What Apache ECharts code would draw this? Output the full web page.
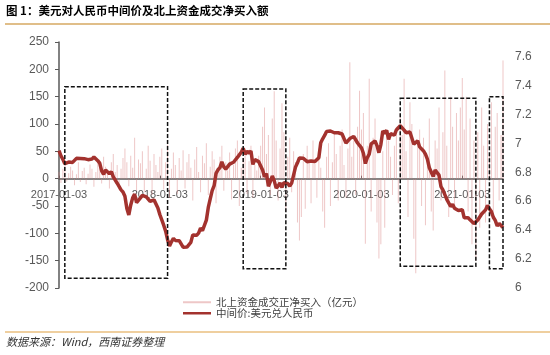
<!DOCTYPE html>
<html>
<head>
<meta charset="utf-8">
<title>美元对人民币中间价及北上资金成交净买入额</title>
<script src="https://cdn.jsdelivr.net/npm/echarts@6/dist/echarts.min.js"></script>
<style>
  html, body { margin: 0; padding: 0; background: #fff; }
  #chart { width: 550px; height: 355px; }
</style>
</head>
<body>
<div id="chart"></div>
<script>
// x axis: one point per week, each year starting on its Jan 3rd
var yearStarts = ['2017-01-03', '2018-01-03', '2019-01-03', '2020-01-03', '2021-01-03'];
var weeksInYear = [52, 52, 52, 52, 22];

// 中间价:美元兑人民币 (weekly)
var rate2017 = [6.950, 6.914, 6.889, 6.859, 6.866, 6.870, 6.875, 6.868, 6.875, 6.896,
                6.907, 6.895, 6.886, 6.894, 6.903, 6.887, 6.886, 6.891, 6.906, 6.893,
                6.880, 6.863, 6.809, 6.786, 6.815, 6.812, 6.789, 6.805, 6.768, 6.760,
                6.724, 6.722, 6.678, 6.664, 6.634, 6.549, 6.505, 6.574, 6.623, 6.649,
                6.590, 6.597, 6.623, 6.640, 6.632, 6.629, 6.616, 6.598, 6.610, 6.609,
                6.606, 6.553];
var rate2018 = [6.508, 6.513, 6.434, 6.393, 6.334, 6.290, 6.319, 6.343, 6.329, 6.336,
                6.327, 6.318, 6.282, 6.292, 6.283, 6.277, 6.315, 6.367, 6.367, 6.365,
                6.379, 6.414, 6.396, 6.391, 6.469, 6.557, 6.616, 6.673, 6.707, 6.792,
                6.817, 6.832, 6.872, 6.837, 6.822, 6.826, 6.856, 6.853, 6.869, 6.870,
                6.902, 6.920, 6.938, 6.965, 6.924, 6.946, 6.931, 6.947, 6.854, 6.887,
                6.899, 6.873];
var rate2019 = [6.863, 6.816, 6.768, 6.791, 6.703, 6.735, 6.774, 6.742, 6.690, 6.705,
                6.725, 6.695, 6.727, 6.725, 6.722, 6.704, 6.725, 6.734, 6.837, 6.865,
                6.899, 6.894, 6.897, 6.893, 6.873, 6.871, 6.878, 6.871, 6.874, 6.871,
                6.900, 7.004, 7.031, 7.054, 7.082, 7.073, 7.085, 7.075, 7.073, 7.073,
                7.073, 7.068, 7.064, 7.053, 7.001, 7.011, 7.033, 7.030, 7.047, 7.034,
                7.002, 6.998];
var rate2020 = [6.968, 6.931, 6.860, 6.900, 6.925, 6.996, 6.986, 7.016, 6.984, 6.935,
                6.991, 7.085, 7.069, 7.090, 7.027, 7.066, 7.071, 7.057, 7.092, 7.094,
                7.121, 7.132, 7.091, 7.073, 7.080, 7.078, 7.066, 6.994, 6.996, 7.018,
                6.975, 6.971, 6.947, 6.925, 6.890, 6.831, 6.839, 6.771, 6.815, 6.810,
                6.780, 6.701, 6.678, 6.691, 6.612, 6.613, 6.563, 6.578, 6.551, 6.540,
                6.535, 6.535];
var rate2021 = [6.541, 6.485, 6.481, 6.485, 6.471, 6.466, 6.445, 6.437, 6.470, 6.480,
                6.511, 6.519, 6.540, 6.570, 6.548, 6.528, 6.489, 6.467, 6.429, 6.446,
                6.441, 6.418];

// 北上资金成交正净买入 (亿元), weekly samples
var flow2017 = [12, -8, 18, 25, -5, 10, 22, 15, -12, 8,
                30, -6, 14, 20, -10, 9, 26, 18, -15, 12,
                35, 28, -9, 40, 22, 15, -18, 30, 45, 12,
                25, -20, 18, 38, 55, 30, -14, 42, 20, 75,
                -22, 35, 28, 50, -25, 18, 60, 33, -30, 45,
                25, 12];
var flow2018 = [40, 55, -20, 30, 62, -35, 18, 48, 25, -28,
                38, 15, 52, -18, 30, 45, 20, -40, 35, 58,
                12, -25, 42, 28, 65, -30, 22, 50, 35, -45,
                18, 40, 60, -22, 30, 15, 48, -38, 25, 55,
                70, -50, 20, 38, 45, -28, 32, 60, -35, 25,
                15, 42];
var flow2019 = [60, 95, 130, 45, 80, -30, 110, 160, 70, -40,
                55, 138, 85, -60, 40, 75, -25, 50, 30, -80,
                -113, -70, 45, -55, 60, 35, -45, 70, 28, -35,
                50, 20, -60, -90, 40, 65, -50, 30, 85, 45,
                -40, 60, 90, 25, -35, 55, 213, 40, 70, -30,
                95, 161];
var flow2020 = [90, 120, -119, 60, 183, -60, 75, 110, -80, -146,
                -120, 50, -90, 85, 70, 40, -30, 60, 95, -45,
                120, 80, 183, 50, -70, 140, 100, -110, -173, 60,
                90, -50, 75, -85, 40, 110, -60, -95, 70, 55,
                130, -40, 85, 198, 60, -70, 150, 95, -55, 120,
                70, 130];
var flow2021 = [184, 90, 150, -60, 110, -120, 70, -150, 85, -90,
                130, 60, -80, 100, 45, 140, -70, 95, 120, -40,
                80, 216];

// dashed boxes (week index, left axis value)
var boxFrom = [3, 95, 176, 222];
var boxTo = [56, 117, 215, 229];
var boxTop = [168, 164, 147, 150];
var boxBottom = [-182, -165, -160, -165];

var names = ['北上资金成交正净买入（亿元）', '中间价:美元兑人民币'];

function weekDates(start, count) {
    var t0 = new Date(start + 'T00:00:00Z').getTime();
    var out = [];
    for (var k = 0; k < count; k++)
        out.push(new Date(t0 + k * 7 * 86400000).toISOString().slice(0, 10));
    return out;
}

var dates = [];
for (var y = 0; y < yearStarts.length; y++)
    dates = dates.concat(weekDates(yearStarts[y], weeksInYear[y]));
var rate = rate2017.concat(rate2018, rate2019, rate2020, rate2021);
var flow = flow2017.concat(flow2018, flow2019, flow2020, flow2021);

var boxes = [];
for (var b = 0; b < boxFrom.length; b++)
    boxes.push([boxFrom[b], boxTo[b], boxTop[b], boxBottom[b]]);

function isYearStart(index) {
    return yearStarts.indexOf(dates[index]) >= 0;
}

// dashed rectangle between two week indexes and two left-axis values
function renderBox(params, api) {
    var p1 = api.coord([api.value(0), api.value(2)]);
    var p2 = api.coord([api.value(1), api.value(3)]);
    return {
        type: 'rect',
        shape: { x: p1[0], y: p1[1], width: p2[0] - p1[0], height: p2[1] - p1[1] },
        style: { fill: 'none', stroke: '#111', lineWidth: 1.5, lineDash: [4, 2] }
    };
}

var grid = { left: 59, right: 47, top: 42, bottom: 67 };
var leftMin = -200, leftMax = 250;
// the date axis sits on the zero of the left axis
var gridHeight = 355 - grid.top - grid.bottom;
var zeroOffset = -gridHeight * (0 - leftMin) / (leftMax - leftMin);

var grey = '#595959';
var numFont = 'Liberation Sans';
var cjkFont = 'Noto Sans CJK SC';

var chart = echarts.init(document.getElementById('chart'));
chart.setOption({
    animation: false,
    title: [{
        text: '图 1：美元对人民币中间价及北上资金成交净买入额',
        left: 6, top: 5, padding: 0,
        textStyle: { fontFamily: cjkFont, fontSize: 11.5, fontWeight: 'bold', color: '#000' }
    }, {
        text: '数据来源：Wind，西南证券整理',
        left: 6, top: 336, padding: 0,
        textStyle: { fontFamily: cjkFont, fontSize: 11, fontWeight: 'normal', fontStyle: 'italic', color: '#333' }
    }],
    graphic: [
        { type: 'line', shape: { x1: 5, y1: 24, x2: 550, y2: 24 }, style: { stroke: '#d6a862', lineWidth: 1.5 } },
        { type: 'line', shape: { x1: 5, y1: 332, x2: 550, y2: 332 }, style: { stroke: '#e0a040', lineWidth: 1.2 } }
    ],
    legend: [{
        data: [names[0]], left: 183, top: 297, padding: 0,
        icon: 'rect', itemWidth: 28, itemHeight: 2,
        textStyle: { fontFamily: cjkFont, fontSize: 10.5, color: '#404040' }
    }, {
        data: [names[1]], left: 183, top: 308, padding: 0,
        icon: 'rect', itemWidth: 28, itemHeight: 2.5,
        textStyle: { fontFamily: cjkFont, fontSize: 10.5, color: '#404040' }
    }],
    grid: grid,
    xAxis: {
        type: 'category',
        data: dates,
        boundaryGap: false,
        offset: zeroOffset,
        axisLine: { onZero: false, lineStyle: { color: grey, width: 1.5 } },
        axisTick: { show: true, inside: true, length: 3, interval: isYearStart, lineStyle: { color: grey } },
        axisLabel: { interval: isYearStart, margin: 11, color: grey, fontFamily: numFont, fontSize: 11 },
        splitLine: { show: false }
    },
    yAxis: [{
        type: 'value',
        min: leftMin, max: leftMax, interval: 50,
        axisLine: { show: true, lineStyle: { color: grey, width: 1.5 } },
        axisTick: { show: true, length: 4, lineStyle: { color: grey } },
        axisLabel: { margin: 10, color: grey, fontFamily: numFont, fontSize: 12 },
        splitLine: { show: false }
    }, {
        type: 'value',
        position: 'right',
        min: 6, max: 7.7, interval: 0.2,
        axisLine: { show: false },
        axisTick: { show: false },
        axisLabel: {
            margin: 12, color: grey, fontFamily: numFont, fontSize: 12,
            formatter: function (v) { return v > 7.65 ? '' : String(Math.round(v * 10) / 10); }
        },
        splitLine: { show: false }
    }],
    series: [{
        name: names[0],
        type: 'bar',
        yAxisIndex: 0,
        data: flow,
        barWidth: 1,
        itemStyle: { color: 'rgba(218,130,130,0.45)' }
    }, {
        name: names[1],
        type: 'line',
        yAxisIndex: 1,
        data: rate,
        symbol: 'none',
        z: 3,
        lineStyle: { color: '#a3322e', width: 3.5 },
        itemStyle: { color: '#a3322e' }
    }, {
        name: 'boxes',
        type: 'custom',
        yAxisIndex: 0,
        silent: true,
        z: 4,
        data: boxes,
        encode: { x: [0, 1], y: [2, 3] },
        renderItem: renderBox
    }]
});
</script>
</body>
</html>
